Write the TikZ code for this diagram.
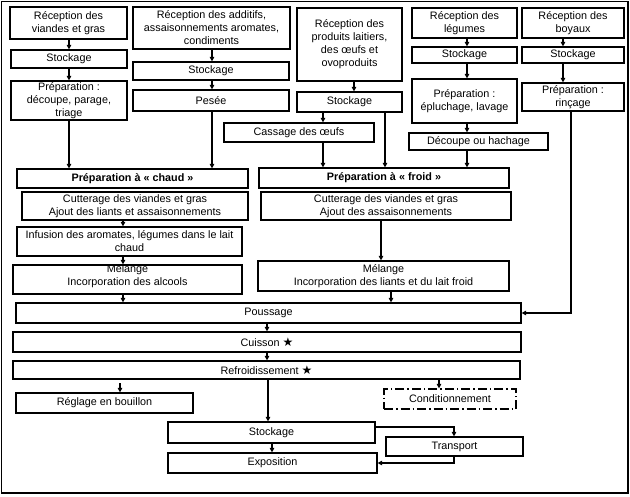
\documentclass[tikz,border=0pt]{standalone}
\usepackage{fontspec}
\setmainfont{Liberation Sans}
\newfontfamily\symfont{DejaVu Sans}
\usetikzlibrary{arrows.meta}
\begin{document}
\begin{tikzpicture}[x=1pt,y=-1pt,
  box/.style={draw, line width=1.2pt, inner sep=0pt, align=center, anchor=center,
    font=\fontsize{10.8}{13}\selectfont},
  txt/.style={inner sep=0pt, align=center, anchor=center, font=\fontsize{10.8}{13}\selectfont},
  hdr/.style={box, font=\fontsize{10.8}{13}\selectfont\bfseries},
  dashbox/.style={box, dash pattern=on 9pt off 3pt on 1.5pt off 3pt},
  arr/.style={line width=1.1pt, -{Triangle[length=4.5pt,width=4.5pt]}},
  ln/.style={line width=1pt}]
\useasboundingbox (0,0) rectangle (630,496);
\draw[line width=1.4pt] (1.5,1.5) rectangle (628,493);

% column x coordinates
\coordinate (xa) at (69,0);
\coordinate (xb) at (212,0);
\coordinate (xc1) at (354,0);
\coordinate (xc2) at (323,0);
\coordinate (xc3) at (385,0);
\coordinate (xd) at (467,0);
\coordinate (xe) at (563,0);
\coordinate (xe2) at (571,0);
\coordinate (xh) at (123,0);
\coordinate (xf1) at (381,0);
\coordinate (xf2) at (391,0);
\coordinate (xp) at (267,0);
\coordinate (xcond) at (439,0);
\coordinate (xs) at (268,0);
\coordinate (xs2) at (272,0);
\coordinate (xt) at (454,0);
\coordinate (ys) at (0,427);
\coordinate (g0) at (120,383);

% column 1
\node[box, minimum width=117pt, minimum height=32pt] (A1) at (68.5,23) {Réception des\\viandes et gras};
\node[box, minimum width=116pt, minimum height=18pt] (A2) at (69,59) {Stockage};
\node[box, minimum width=116pt, minimum height=39pt] (A3) at (69,100.5) {Préparation :\\découpe, parage,\\triage};

% column 2
\node[box, minimum width=157pt, minimum height=42pt] (B1) at (211.5,28) {Réception des additifs,\\assaisonnements aromates,\\condiments};
\node[box, minimum width=156pt, minimum height=18pt] (B2) at (211,71) {Stockage};
\node[box, minimum width=156pt, minimum height=21pt] (B3) at (211,100.5) {Pesée};

% column 3
\node[box, minimum width=105pt, minimum height=73pt] (C1) at (349.5,44.5) {Réception des\\produits laitiers,\\des œufs et\\ovoproduits};
\node[box, minimum width=105pt, minimum height=20pt] (C2) at (349.5,102) {Stockage};
\node[box, minimum width=150pt, minimum height=19pt] (C3) at (299,132.5) {Cassage des œufs};

% column 4
\node[box, minimum width=105pt, minimum height=30pt] (D1) at (464.5,23) {Réception des\\légumes};
\node[box, minimum width=105pt, minimum height=16pt] (D2) at (464.5,55) {Stockage};
\node[box, minimum width=105pt, minimum height=44pt] (D3) at (464.5,101) {Préparation :\\épluchage, lavage};
\node[box, minimum width=139pt, minimum height=17pt] (D4) at (478.5,141.5) {Découpe ou hachage};

% column 5
\node[box, minimum width=102pt, minimum height=30pt] (E1) at (573,23) {Réception des\\boyaux};
\node[box, minimum width=102pt, minimum height=16pt] (E2) at (573,55) {Stockage};
\node[box, minimum width=102pt, minimum height=28pt] (E3) at (573,97) {Préparation :\\rinçage};

% chaud
\node[hdr, minimum width=231pt, minimum height=19pt] (H0) at (132.5,178.5) {Préparation à «~chaud~»};
\node[box, minimum width=226pt, minimum height=28pt] (H1) at (135,206) {Cutterage des viandes et gras\\Ajout des liants et assaisonnements};
\node[box, minimum width=225pt, minimum height=29pt] (H2) at (129.5,241.5) {Infusion des aromates, légumes dans le lait\\chaud};
\node[box, minimum width=229pt, minimum height=29pt] (H3) at (127.5,279.5) {};
\node[txt] (H3t) at (127.5,276) {Mélange\\Incorporation des alcools};

% froid
\node[hdr, minimum width=250pt, minimum height=20pt] (F0) at (384,178) {Préparation à «~froid~»};
\node[box, minimum width=250pt, minimum height=28pt] (F1) at (386,206) {Cutterage des viandes et gras\\Ajout des assaisonnements};
\node[box, minimum width=251pt, minimum height=30pt] (F2) at (383.5,276) {Mélange\\Incorporation des liants et du lait froid};

% bottom
\node[box, minimum width=505pt, minimum height=20pt] (P) at (268.5,313) {Poussage};
\node[box, minimum width=508pt, minimum height=20pt] (K) at (267,342) {Cuisson {\symfont\fontsize{12}{13}\selectfont ★}};
\node[box, minimum width=507pt, minimum height=18pt] (R) at (266.5,370) {Refroidissement {\symfont\fontsize{12}{13}\selectfont ★}};
\node[box, minimum width=177pt, minimum height=20pt] (G) at (104.5,403) {Réglage en bouillon};
\node[dashbox, minimum width=132pt, minimum height=20pt] (Q) at (450,399) {Conditionnement};
\node[box, minimum width=207pt, minimum height=21pt] (S) at (271.5,432.5) {Stockage};
\node[box, minimum width=209pt, minimum height=20pt] (X) at (272.5,463) {Exposition};
\node[box, minimum width=137pt, minimum height=19pt] (T) at (454.5,446.5) {Transport};

% arrows column 1
\draw[arr] (A1.south -| xa) -- (A2.north -| xa);
\draw[arr] (A2.south -| xa) -- (A3.north -| xa);
\draw[arr] (A3.south -| xa) -- (H0.north -| xa);
% column 2
\draw[arr] (B1.south -| xb) -- (B2.north -| xb);
\draw[arr] (B2.south -| xb) -- (B3.north -| xb);
\draw[arr] (B3.south -| xb) -- (H0.north -| xb);
% column 3
\draw[arr] (C1.south -| xc1) -- (C2.north -| xc1);
\draw[arr] (C2.south -| xc2) -- (C3.north -| xc2);
\draw[arr] (C3.south -| xc2) -- (F0.north -| xc2);
\draw[arr] (C2.south -| xc3) -- (F0.north -| xc3);
% column 4
\draw[arr] (D1.south -| xd) -- (D2.north -| xd);
\draw[arr] (D2.south -| xd) -- (D3.north -| xd);
\draw[arr] (D3.south -| xd) -- (D4.north -| xd);
\draw[arr] (D4.south -| xd) -- (F0.north -| xd);
% column 5
\draw[arr] (E1.south -| xe) -- (E2.north -| xe);
\draw[arr] (E2.south -| xe) -- (E3.north -| xe);
\draw[arr] (E3.south -| xe2) |- (P.east);
% chaud
\draw[arr] (H1.south -| xh) -- (H2.north -| xh);
\draw[arr] (H2.south -| xh) -- (H3.north -| xh);
\draw[arr] (H3.south -| xh) -- (P.north -| xh);
% froid
\draw[arr] (F1.south -| xf1) -- (F2.north -| xf1);
\draw[arr] (F2.south -| xf2) -- (P.north -| xf2);
% bottom
\draw[arr] (P.south -| xp) -- (K.north -| xp);
\draw[arr] (K.south -| xp) -- (R.north -| xp);
\draw[arr] (g0) -- (G.north -| g0);
\draw[arr] (R.south -| xcond) -- (Q.north -| xcond);
\draw[arr] (R.south -| xs) -- (S.north -| xs);
\draw[arr] (S.south -| xs2) -- (X.north -| xs2);
\draw[arr] (S.east |- ys) -| (T.north -| xt);
\draw[arr] (T.south -| xt) |- (X.east);
\end{tikzpicture}
\end{document}
